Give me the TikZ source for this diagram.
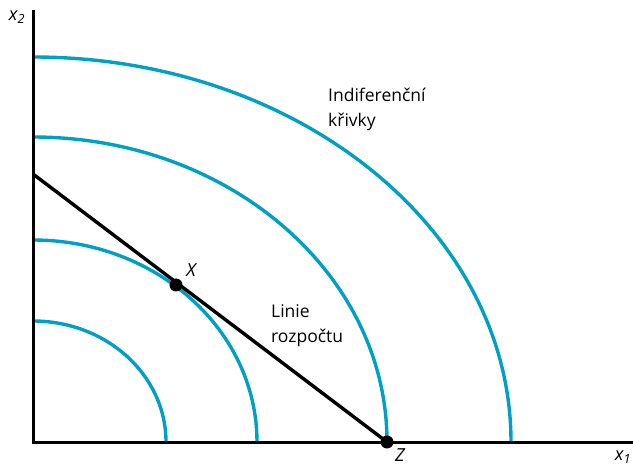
\documentclass[tikz,border=0pt]{standalone}
\usepackage{fontspec}
\setmainfont{Open Sans}
\definecolor{curveblue}{RGB}{0,160,198}
\begin{document}
\begin{tikzpicture}[x=1pt,y=-1pt,
  curve/.style={curveblue,line width=3.4pt},
  axis/.style={black,line width=3pt},
  budget/.style={black,line width=3.4pt},
  dot/.style={circle,fill=black,inner sep=0pt,minimum size=13pt},
  lbl/.style={font=\fontsize{17.5}{25}\selectfont,align=left,anchor=base west,inner sep=0pt},
  var/.style={font=\fontsize{18}{20}\selectfont\itshape,inner sep=0pt}]
\useasboundingbox (0,0) rectangle (633,468);
\coordinate (O) at (33,442);
\coordinate (ytop) at (33,10);
\coordinate (xend) at (633,442);
% indifference curves
\draw[curve] (166,442) arc[start angle=0,end angle=90,x radius=133,y radius=-121];
\draw[curve] (257,442) arc[start angle=0,end angle=90,x radius=224,y radius=-202];
\draw[curve] (387,442) arc[start angle=0,end angle=90,x radius=354,y radius=-305];
\draw[curve] (511,442) arc[start angle=0,end angle=90,x radius=478,y radius=-385];
% axes
\draw[axis] (ytop) -- (O) -- (xend);
% budget line
\coordinate (B) at (33,174);
\node[dot] (Z) at (387,442) {};
\node[dot] (X) at (176,285) {};
\draw[budget] (B) -- (Z.center);
% labels
\node[var] (lx2) at (17,17) {x\textsubscript{2}};
\node[var] (lx1) at (623,457) {x\textsubscript{1}};
\node[var] (lX) at (191,270) {X};
\node[var] (lZ) at (400,455) {Z};
\node[lbl] (ind) at (328,127) {Indiferenční\\křivky};
\node[lbl] (lin) at (271,343) {Linie\\rozpočtu};
\end{tikzpicture}
\end{document}
